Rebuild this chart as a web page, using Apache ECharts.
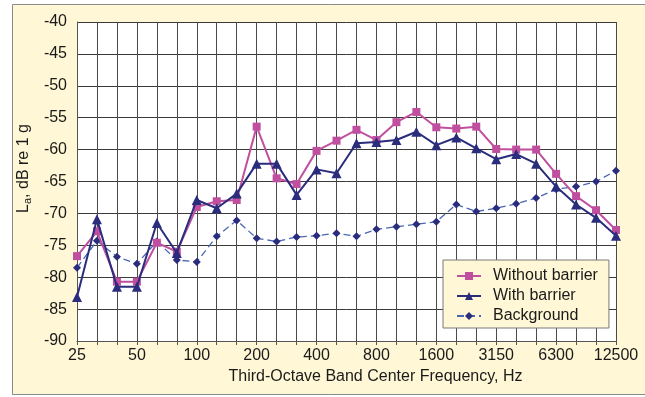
<!DOCTYPE html>
<html>
<head>
<meta charset="utf-8">
<script src="https://cdn.jsdelivr.net/npm/echarts@6/dist/echarts.min.js"></script>
<style>
  html, body { margin: 0; padding: 0; background: #ffffff; }
  #chart { width: 645px; height: 397px; }
</style>
</head>
<body>
<div id="chart"></div>
<script>
// Third-octave band centre frequencies, Hz
const bands = ['25', '31.5', '40', '50', '63', '80', '100', '125', '160', '200', '250', '315', '400', '500',
  '630', '800', '1000', '1250', '1600', '2000', '2500', '3150', '4000', '5000', '6300', '8000', '10000', '12500'];

// Acceleration level, dB re 1 g
const withoutBarrier = [-76.7, -72.8, -80.7, -80.7, -74.6, -76.0, -69.0, -68.1, -67.9, -56.4, -64.5, -65.4, -60.2, -58.6,
  -56.9, -58.5, -55.7, -54.1, -56.5, -56.7, -56.4, -59.9, -60.0, -60.0, -63.8, -67.3, -69.5, -72.6];
const withBarrier = [-83.1, -70.9, -81.5, -81.5, -71.5, -76.2, -67.9, -69.2, -66.9, -62.2, -62.2, -67.1, -63.1, -63.7,
  -59.0, -58.8, -58.5, -57.2, -59.3, -58.1, -59.8, -61.5, -60.7, -62.2, -65.8, -68.6, -70.7, -73.5];
const background = [-78.5, -74.3, -76.8, -77.9, -74.4, -77.3, -77.6, -73.6, -71.1, -73.9, -74.4, -73.7, -73.5, -73.1,
  -73.6, -72.5, -72.1, -71.7, -71.3, -68.6, -69.7, -69.2, -68.5, -67.6, -66.2, -65.8, -65.0, -63.3];

const seriesNames = ['Without barrier', 'With barrier', 'Background'];

const FONT = '"Liberation Sans", Arial, sans-serif';
const CREAM = '#fff7d6';
const PINK = '#c0509f';
const NAVY = '#2a2c7c';
const DASHBLUE = '#4a66b4';

const chart = echarts.init(document.getElementById('chart'), null, { renderer: 'canvas' });

chart.setOption({
  animation: false,
  backgroundColor: '#ffffff',
  graphic: [{
    type: 'rect',
    z: -10,
    silent: true,
    shape: { x: 12.5, y: 4.5, width: 650, height: 390 },
    style: { fill: CREAM, stroke: '#8a8a8a', lineWidth: 1 }
  }],
  grid: {
    left: 77, top: 22, right: 29, bottom: 56,
    show: true, backgroundColor: '#ffffff', borderWidth: 0
  },
  legend: {
    orient: 'vertical',
    left: 443, top: 260,
    padding: [8, 11, 4, 13],
    itemGap: 4,
    itemWidth: 24, itemHeight: 10,
    backgroundColor: CREAM,
    borderColor: '#7a7a7a', borderWidth: 1,
    textStyle: { fontFamily: FONT, fontSize: 16, color: '#1a1a1a', padding: [0, 0, 0, 7] },
    data: seriesNames
  },
  xAxis: {
    type: 'category',
    data: bands,
    boundaryGap: false,
    name: 'Third-Octave Band Center Frequency, Hz',
    nameLocation: 'middle',
    nameGap: 24,
    nameTextStyle: { fontFamily: FONT, fontSize: 16, color: '#1a1a1a', padding: [0, 0, 0, 58] },
    axisLine: { lineStyle: { color: '#555555', width: 1 } },
    axisTick: { show: true, interval: 0, length: 4, lineStyle: { color: '#555555' } },
    axisLabel: { interval: 2, fontFamily: FONT, fontSize: 16, color: '#1a1a1a', margin: 7 },
    splitLine: { show: true, interval: 0, lineStyle: { color: '#4a4a4a', width: 1 } }
  },
  yAxis: {
    type: 'value',
    min: -90, max: -40, interval: 5,
    name: '{l|L}{s|a}{l|, dB re 1 g}',
    nameLocation: 'middle',
    nameGap: 33,
    nameRotate: 90,
    nameTextStyle: {
      padding: [0, 0, 0, 26],
      rich: {
        l: { fontFamily: FONT, fontSize: 16, color: '#1a1a1a' },
        s: { fontFamily: FONT, fontSize: 11, color: '#1a1a1a', verticalAlign: 'bottom', padding: [7, 0, 0, 0] }
      }
    },
    axisLine: { show: true, lineStyle: { color: '#555555', width: 1 } },
    axisTick: { show: false },
    axisLabel: { fontFamily: FONT, fontSize: 16, color: '#1a1a1a', margin: 10 },
    splitLine: { show: true, lineStyle: { color: '#3a3a3a', width: 1 } }
  },
  series: [
    {
      name: seriesNames[0],
      type: 'line',
      data: withoutBarrier,
      symbol: 'rect', symbolSize: 8,
      itemStyle: { color: PINK },
      lineStyle: { color: PINK, width: 2 },
      z: 3
    },
    {
      name: seriesNames[1],
      type: 'line',
      data: withBarrier,
      symbol: 'triangle', symbolSize: 10,
      itemStyle: { color: NAVY },
      lineStyle: { color: NAVY, width: 2 },
      z: 4
    },
    {
      name: seriesNames[2],
      type: 'line',
      data: background,
      symbol: 'diamond', symbolSize: 8,
      itemStyle: { color: NAVY },
      lineStyle: { color: DASHBLUE, width: 1.3, type: [7, 4] },
      z: 2
    }
  ]
});
</script>
</body>
</html>
